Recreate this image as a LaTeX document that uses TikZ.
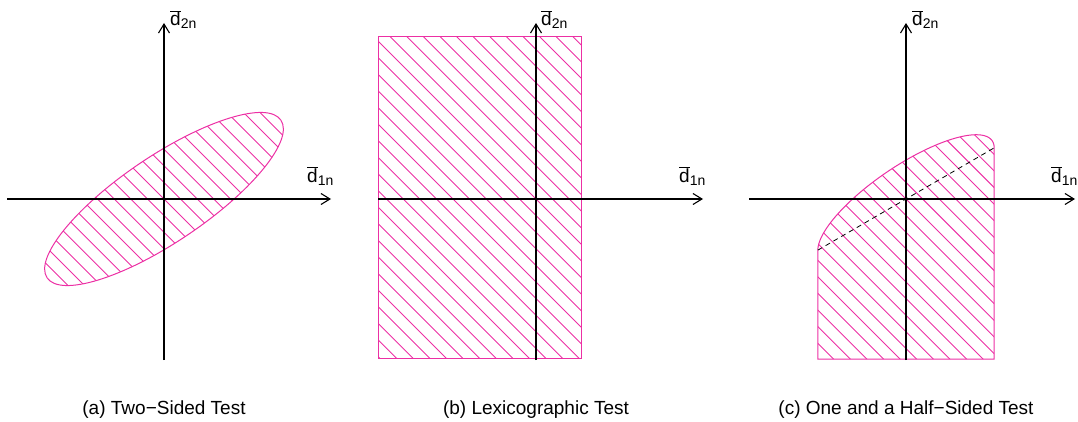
\documentclass[tikz,border=0pt]{standalone}
\usepackage{fontspec}
\setmainfont{Liberation Sans}
\usetikzlibrary{arrows.meta}
\definecolor{hp}{RGB}{236,48,164}
\tikzset{
  axisline/.style={black, line width=1.1pt, -{Straight Barb[length=9pt,width=11pt,line width=1.1pt]}},
  outline/.style={draw=hp, line width=1pt},
  hatchline/.style={hp, line width=0.9pt},
  lab/.style={font=\fontsize{19}{22}\selectfont, inner sep=0pt, anchor=base west},
  captext/.style={font=\fontsize{19}{22}\selectfont, inner sep=0pt, anchor=base},
  dashline/.style={black, line width=0.8pt, dash pattern=on 5pt off 4pt}
}
\newcommand{\dbar}[1]{$\overline{\mbox{d}}$\raisebox{-3pt}{\fontsize{14}{14}\selectfont #1}}
\begin{document}
\begin{tikzpicture}[x=1pt,y=1pt]
\useasboundingbox (0,0) rectangle (1078,421);
% ---------- (a)
\begin{scope}[shift={(164,222)}]
  \begin{scope}
    \clip[rotate=34] (0,0) ellipse[x radius=141pt, y radius=43pt];
    \foreach \k in {-24,...,24} \draw[hatchline] ({\k*16.6-250},250) -- ({\k*16.6+250},-250);
  \end{scope}
  \draw[outline, rotate=34] (0,0) ellipse[x radius=141pt, y radius=43pt];
  \coordinate (a-xs) at (-157,0); \coordinate (a-xe) at (167,0);
  \coordinate (a-ys) at (0,-161); \coordinate (a-ye) at (0,176);
  \draw[axisline] (a-xs) -- (a-xe);
  \draw[axisline] (a-ys) -- (a-ye);
  \node[lab] (a-l2) at (6,173) {\dbar{2n}};
  \node[lab] (a-l1) at (143,17) {\dbar{1n}};
  \node[captext] (a-cap) at (0,-215) {(a) Two−Sided Test};
\end{scope}
% ---------- (b)
\begin{scope}[shift={(536,222)}]
  \begin{scope}
    \clip (-158,-159) rectangle (45,162);
    \foreach \k in {-24,...,24} \draw[hatchline] ({\k*16.6-250},250) -- ({\k*16.6+250},-250);
  \end{scope}
  \draw[outline] (-158,-159) rectangle (45,162);
  \coordinate (b-xs) at (-158,0); \coordinate (b-xe) at (167,0);
  \coordinate (b-ys) at (0,-161); \coordinate (b-ye) at (0,176);
  \draw[axisline] (b-xs) -- (b-xe);
  \draw[axisline] (b-ys) -- (b-ye);
  \node[lab] (b-l2) at (5,173) {\dbar{2n}};
  \node[lab] (b-l1) at (143,17) {\dbar{1n}};
  \node[captext] (b-cap) at (0,-215) {(b) Lexicographic Test};
\end{scope}
% ---------- (c)
\begin{scope}[shift={(906,222)}]
  \begin{scope}
    \clip (88.17,51.15) -- (88.17,-160) -- (-88.17,-160) -- (-88.17,-51.15)
      -- plot[domain=167.92:-12.08, samples=90, smooth] ({86.22*cos(\x)-18.45*sin(\x)},{58.16*cos(\x)+27.36*sin(\x)}) -- cycle;
    \foreach \k in {-24,...,24} \draw[hatchline] ({\k*16.6-250},250) -- ({\k*16.6+250},-250);
  \end{scope}
  \draw[outline] (88.17,51.15) -- (88.17,-160) -- (-88.17,-160) -- (-88.17,-51.15)
      -- plot[domain=167.92:-12.08, samples=90, smooth] ({86.22*cos(\x)-18.45*sin(\x)},{58.16*cos(\x)+27.36*sin(\x)}) -- cycle;
  \coordinate (c-dl) at (-88.17,-51.15); \coordinate (c-dr) at (88.17,51.15);
  \draw[dashline] (c-dl) -- (c-dr);
  \coordinate (c-xs) at (-157,0); \coordinate (c-xe) at (169,0);
  \coordinate (c-ys) at (0,-161); \coordinate (c-ye) at (0,176);
  \draw[axisline] (c-xs) -- (c-xe);
  \draw[axisline] (c-ys) -- (c-ye);
  \node[lab] (c-l2) at (6,173) {\dbar{2n}};
  \node[lab] (c-l1) at (145,17) {\dbar{1n}};
  \node[captext] (c-cap) at (0,-215) {(c) One and a Half−Sided Test};
\end{scope}
\end{tikzpicture}
\end{document}
